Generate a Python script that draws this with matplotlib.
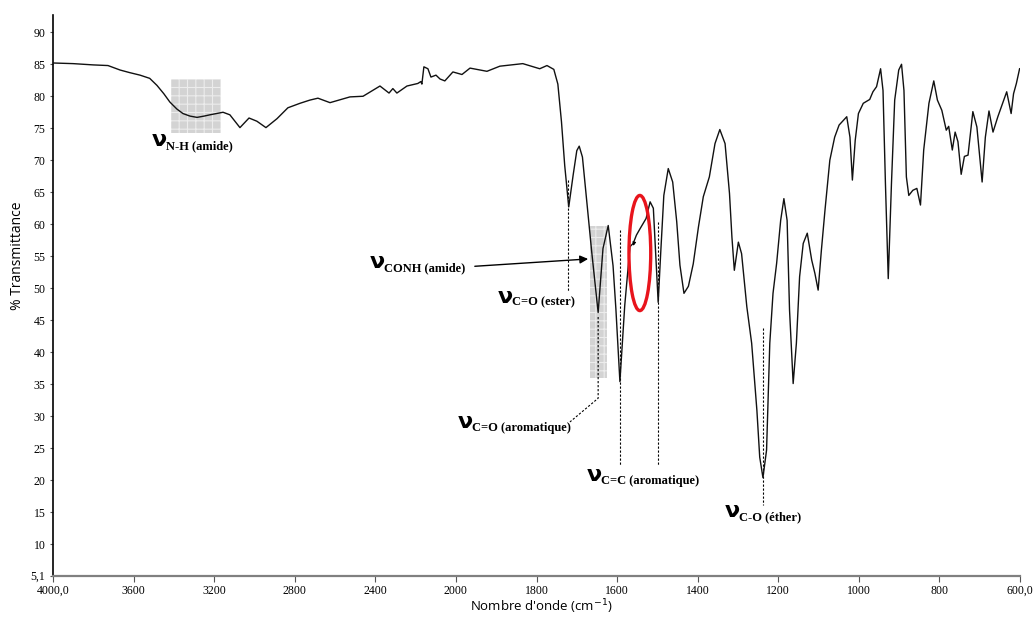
import numpy as np
import matplotlib
matplotlib.use("Agg")
import matplotlib.pyplot as plt
from matplotlib.patches import Rectangle, Ellipse

# ---- data (wavenumber cm-1, % transmittance) ----
wavenumber = [4000, 3900, 3850, 3800, 3727, 3667, 3620, 3568, 3520, 3484, 3450, 3420, 3385,
              3355, 3320, 3285, 3250, 3221, 3156, 3122,
              3072, 3027, 2988, 2943, 2888, 2834, 2774, 2725, 2685, 2625, 2526, 2461, 2377,
              2332, 2313, 2293, 2243, 2189, 2174, 2169, 2159, 2139, 2124, 2099, 2079, 2055,
              2015, 1985, 1965, 1923, 1891, 1834, 1792, 1774, 1757, 1747, 1738, 1730, 1720,
              1709, 1700, 1694, 1686, 1676, 1663, 1647, 1635, 1622, 1610, 1603, 1593, 1581,
              1568, 1560, 1552, 1543, 1528, 1518, 1510, 1504, 1498, 1492, 1484, 1473, 1462,
              1452, 1444, 1434, 1423, 1411, 1398, 1386, 1371, 1357, 1345, 1332, 1321, 1315,
              1309, 1299, 1291, 1278, 1266, 1253, 1246, 1238, 1229, 1221, 1213, 1204, 1194,
              1186, 1178, 1172, 1163, 1155, 1147, 1138, 1128, 1117, 1109, 1101, 1093, 1084,
              1072, 1060, 1049, 1030, 1022, 1016, 1009, 1001, 989, 973, 965, 956, 946, 940,
              934, 927, 919, 911, 901, 894, 888, 882, 876, 866, 856, 847, 839, 826, 814, 805,
              794, 783, 777, 768, 761, 754, 746, 738, 729, 717, 707, 694, 686, 677, 667, 655,
              643, 633, 622, 616, 609, 601]
transmittance = [85.2, 85.1, 85.0, 84.9, 84.8, 84.1, 83.7, 83.3, 82.8, 81.7, 80.4, 79.1, 78.0,
                 77.3, 76.9, 76.7, 76.9, 77.1, 77.5, 77.1,
                 75.1, 76.6, 76.1, 75.1, 76.5, 78.2, 78.9, 79.4, 79.7, 79.0, 79.9, 80.0, 81.6,
                 80.5, 81.2, 80.5, 81.6, 82.0, 82.3, 81.9, 84.6, 84.3, 83.0, 83.3, 82.7, 82.4,
                 83.8, 83.4, 84.4, 83.9, 84.7, 85.1, 84.3, 84.8, 84.2, 81.9, 76.0, 69.2, 62.7,
                 67.7, 71.5, 72.2, 70.5, 64.0, 55.7, 46.2, 56.2, 59.8, 53.5, 46.8, 35.4, 47.3,
                 56.5, 57.0, 58.3, 59.3, 60.9, 63.5, 62.5, 55.2, 47.8, 55.2, 64.5, 68.7, 66.6,
                 60.4, 53.6, 49.2, 50.3, 53.8, 59.6, 64.3, 67.4, 72.6, 74.8, 72.6, 64.8, 58.0,
                 52.8, 57.2, 55.4, 47.1, 41.4, 30.9, 23.6, 20.4, 24.7, 41.4, 49.2, 53.9, 60.6,
                 64.0, 60.6, 46.6, 35.1, 41.4, 51.8, 57.0, 58.6, 54.4, 52.3, 49.7, 55.9, 62.2,
                 70.0, 73.6, 75.5, 76.8, 73.6, 66.9, 73.1, 77.3, 78.9, 79.5, 80.7, 81.5, 84.3, 80.9,
                 66.4, 51.5, 66.4, 79.4, 84.1, 85.0, 80.9, 67.4, 64.5, 65.3, 65.6, 63.0, 71.6,
                 78.9, 82.4, 79.4, 77.8, 74.7, 75.3, 71.6, 74.4, 72.9, 67.8, 70.6, 70.8, 77.6,
                 75.2, 66.6, 73.6, 77.7, 74.4, 76.8, 78.9, 80.7, 77.3, 80.4, 82.0, 84.3]

x_ticks = [4000, 3600, 3200, 2800, 2400, 2000, 1800, 1600, 1400, 1200, 1000, 800, 600]
x_ticklabels = ["4000,0", "3600", "3200", "2800", "2400", "2000", "1800", "1600",
                "1400", "1200", "1000", "800", "600,0"]
y_ticks = [5.1, 10, 15, 20, 25, 30, 35, 40, 45, 50, 55, 60, 65, 70, 75, 80, 85, 90]
y_ticklabels = ["5,1"] + [str(v) for v in y_ticks[1:]]

# band labels: (wavenumber, %T of nu baseline, subscript text)
band_labels = [
    (3509, 72.2, "N-H (amide)"),
    (2427, 53.1, "CONH (amide)"),
    (1896, 47.7, "C=O (ester)"),
    (1995, 28.1, "C=O (aromatique)"),
    (1675, 19.8, "C=C (aromatique)"),
    (1333, 14.2, "C-O (éther)"),
]

# ---- scale: 400 cm-1 per division above 2000, 200 cm-1 below ----
def fwd(x):
    x = np.asarray(x, dtype=float)
    return np.where(x >= 2000, 5 + (x - 2000) / 400.0, x / 200.0 - 5)

def inv(u):
    u = np.asarray(u, dtype=float)
    return np.where(u >= 5, 2000 + (u - 5) * 400.0, (u + 5) * 200.0)

serif = ["Liberation Serif", "DejaVu Serif"]
plt.rcParams["hatch.linewidth"] = 0.8

fig = plt.figure(figsize=(10.34, 6.17), dpi=100)
ax = fig.add_axes([53 / 1034, 1 - 575.5 / 617, (1020 - 53) / 1034, (575.5 - 15) / 617])
ax.set_xscale("function", functions=(fwd, inv))
ax.set_xlim(4000, 600)
ax.set_ylim(5.1, 92.7)

# shaded boxes
ax.add_patch(Rectangle((3166, 74.2), 3414 - 3166, 82.7 - 74.2, facecolor="#d3d3d3",
                       edgecolor="#ececec", hatch="++", lw=0, zorder=1))
ax.add_patch(Rectangle((1626, 35.9), 1667.5 - 1626, 59.7 - 35.9, facecolor="#d3d3d3",
                       edgecolor="#ececec", hatch="++", lw=0, zorder=1))

ax.plot(wavenumber, transmittance, color="#111111", lw=1.0, zorder=3)

# dotted guide lines
dot = dict(color="black", lw=0.8, ls=(0, (2, 1.6)), zorder=2)
ax.plot([1722, 1722], [66.9, 49.4], **dot)
ax.plot([1647, 1647, 1717], [45.5, 32.8, 29.1], **dot)
ax.plot([1593, 1593], [59.1, 22.3], **dot)
ax.plot([1498, 1498], [60.3, 22.3], **dot)
ax.plot([1238, 1238], [43.75, 16.1], **dot)

# arrow to CONH box
ax.annotate("", xy=(1665, 54.6), xytext=(1960, 53.4),
            arrowprops=dict(arrowstyle="-|>", color="black", lw=1.0, mutation_scale=12),
            zorder=4)

# red ellipse
ax.add_patch(Ellipse((1543.5, 55.5), 54, 18.0, fill=False, edgecolor="#e8141c",
                     lw=2.4, zorder=5))
ax.annotate("", xy=(1561, 56.2), xytext=(1556, 57.6),
            arrowprops=dict(arrowstyle="-|>", color="black", lw=0.7, mutation_scale=5),
            zorder=4)

# labels
for wn, t, sub in band_labels:
    ax.text(wn, t, "ν", fontsize=16, fontweight="bold", family="DejaVu Sans",
            ha="left", va="baseline", zorder=6)
    ax.annotate(sub, xy=(wn, t), xytext=(10, -2), textcoords="offset points",
                fontsize=9, fontweight="bold", family=serif, ha="left", va="baseline",
                zorder=6)

# axes style
for s in ("top", "right"):
    ax.spines[s].set_visible(False)
ax.spines["left"].set_color("black")
ax.spines["left"].set_linewidth(1.2)
ax.spines["bottom"].set_color("#808080")
ax.spines["bottom"].set_linewidth(1.6)

ax.set_xticks(x_ticks)
ax.set_xticklabels(x_ticklabels, family=serif, fontsize=8.5)
ax.set_yticks(y_ticks)
ax.set_yticklabels(y_ticklabels, family=serif, fontsize=8.5)
ax.minorticks_off()
ax.tick_params(axis="x", direction="out", length=4, width=0.8, color="#555555", pad=3)
ax.tick_params(axis="y", direction="out", length=2.5, width=0.8, color="#555555", pad=3)

fig.text(541 / 1034, 1 - 607 / 617, "Nombre d'onde (cm$^{-1}$)", ha="center", va="center",
         fontsize=9.5, family="Open Sans")
fig.text(18 / 1034, 1 - 256 / 617, "% Transmittance", ha="center", va="center",
         rotation=90, fontsize=10, family="Open Sans")

fig.savefig("out.png", dpi=100)
